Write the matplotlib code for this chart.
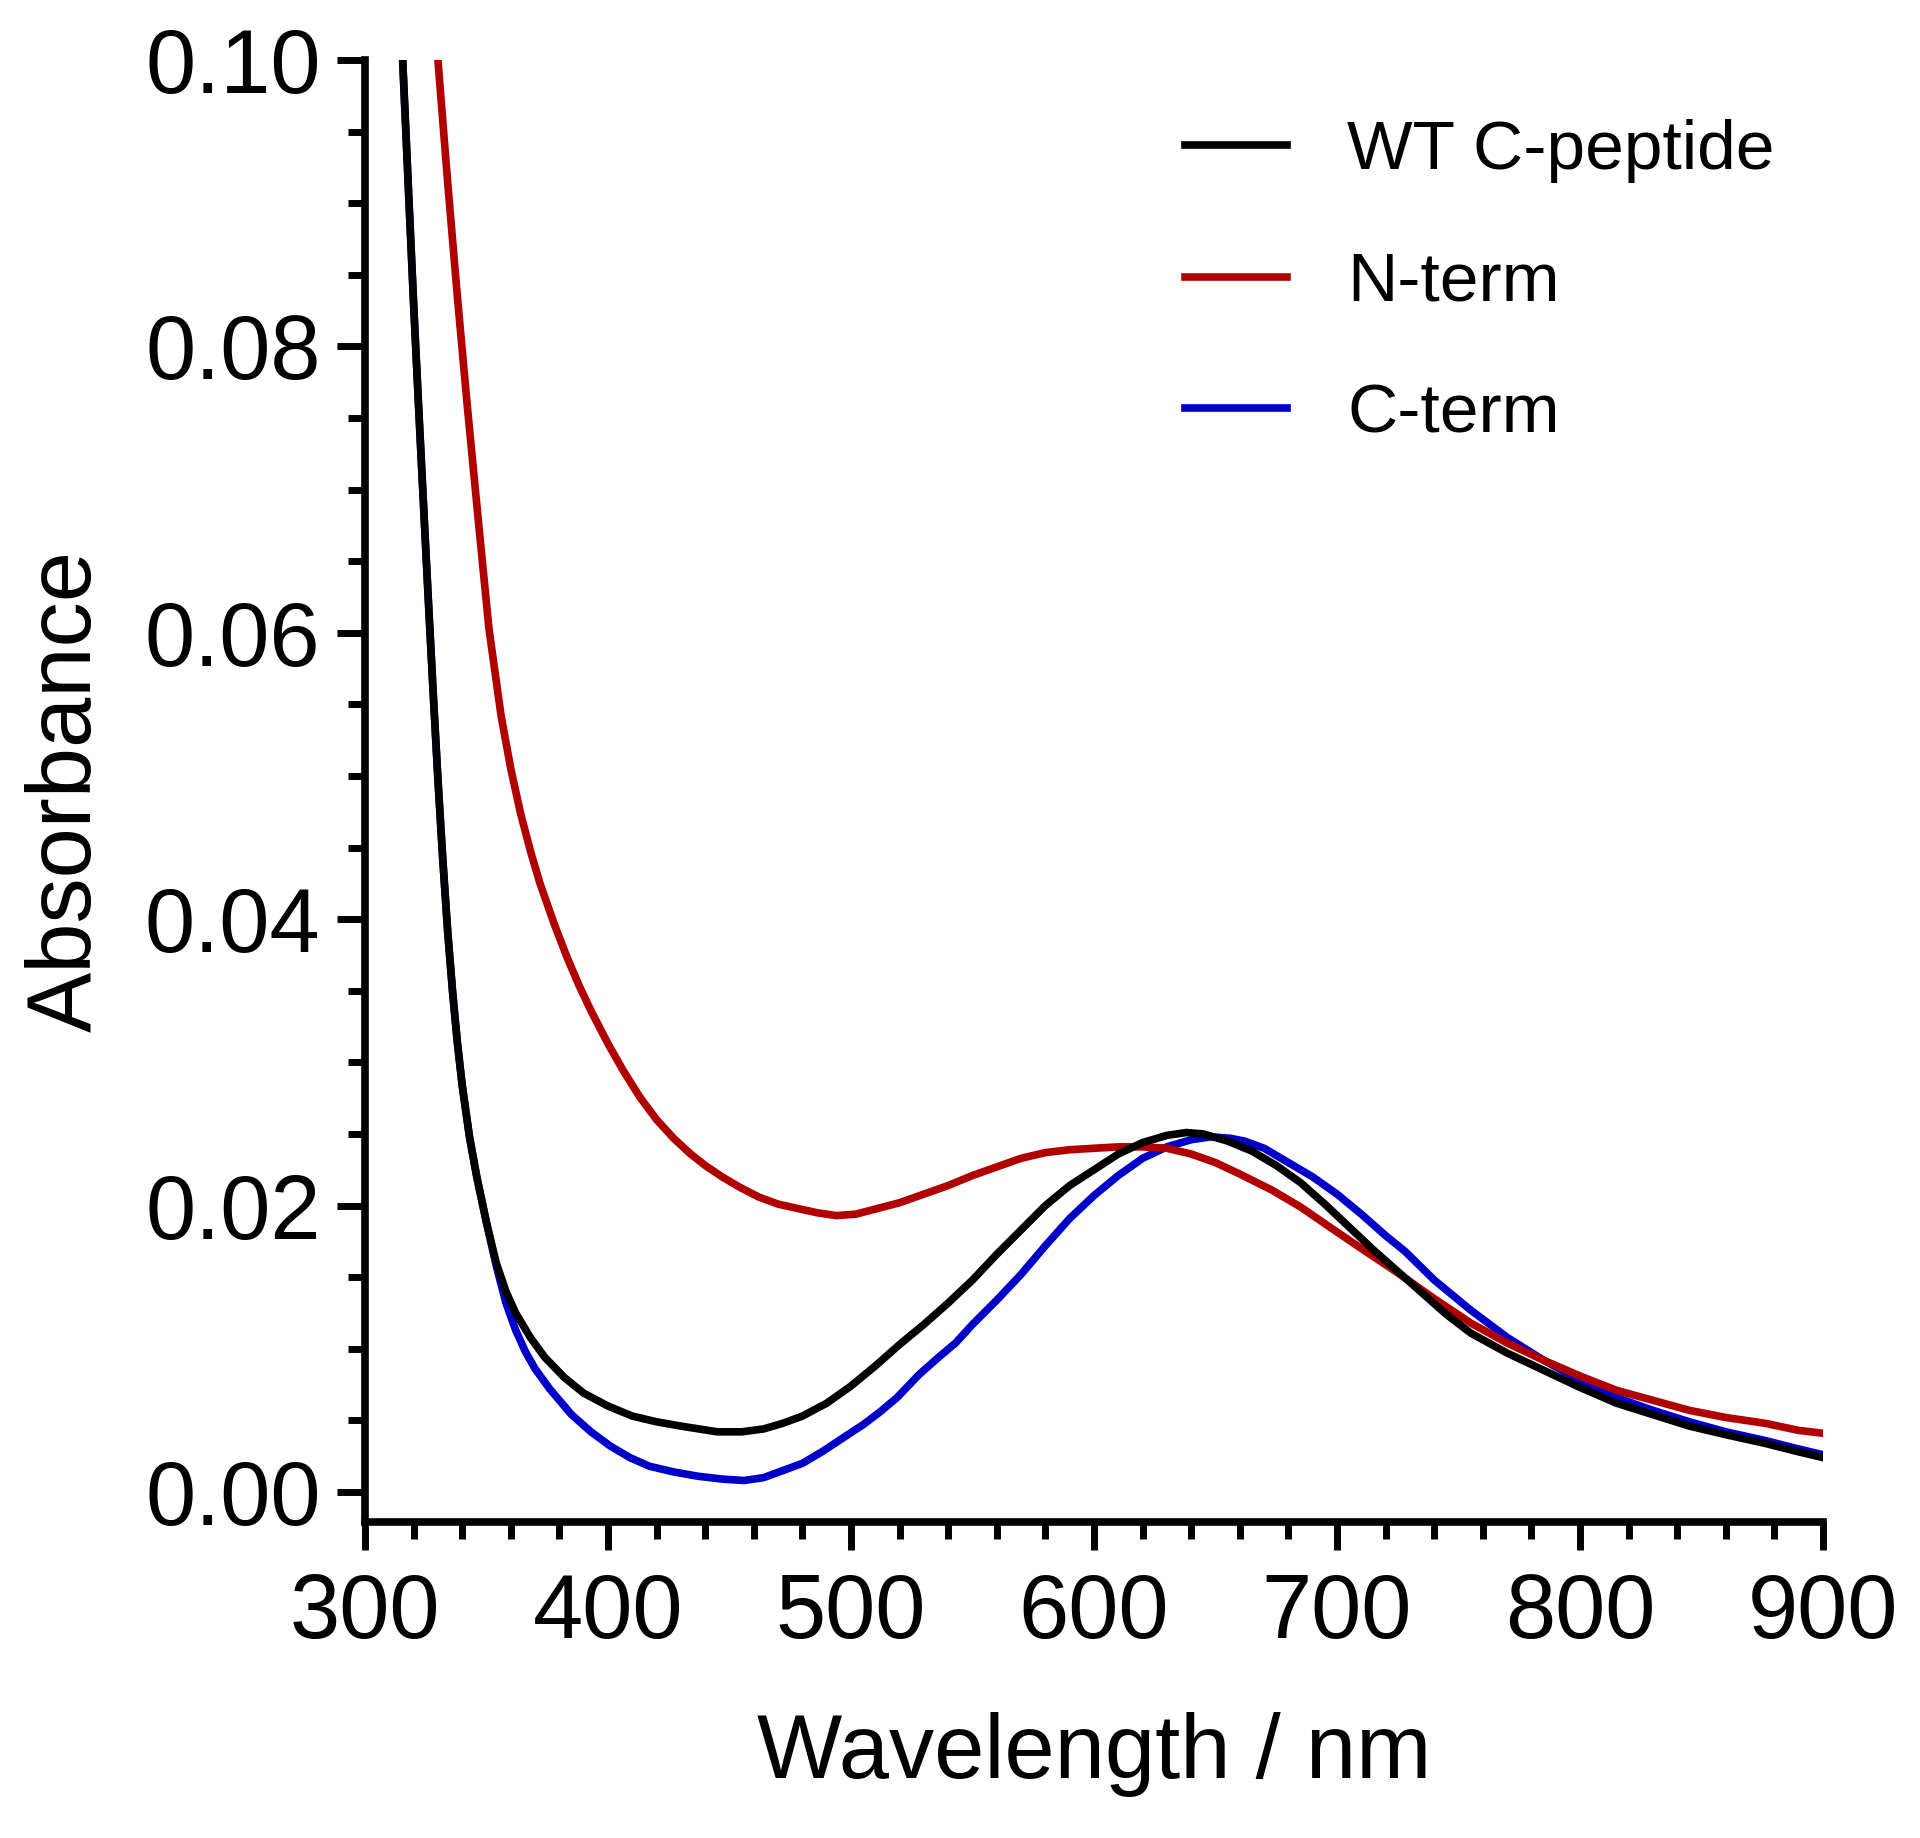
import numpy as np
import matplotlib
matplotlib.use('Agg')
import matplotlib.pyplot as plt
from matplotlib.ticker import MultipleLocator, FormatStrFormatter

# absorbance spectra (wavelength in nm)
wt_nm = [315.5, 318, 320, 322, 324, 326, 328, 330, 332, 334, 336, 338, 340, 343, 346,
         350, 354, 358, 362, 368, 374, 382, 390, 400, 410, 420, 430, 445, 455, 464,
         472, 480, 490, 500, 510, 520, 530, 540, 550, 560, 570, 580, 590, 600, 610,
         620, 630, 638, 645, 655, 665, 675, 685, 695, 705, 715, 725, 735, 745, 755,
         770, 785, 800, 815, 830, 845, 860, 876, 890, 900]
wt_abs = [0.1000, 0.0905, 0.0830, 0.0760, 0.0692, 0.0625, 0.0560, 0.0498, 0.0442,
          0.0392, 0.0350, 0.0314, 0.0284, 0.0248, 0.0220, 0.0188, 0.0160, 0.0140,
          0.0125, 0.0108, 0.0094, 0.0080, 0.0069, 0.0060, 0.0053, 0.0049, 0.0046,
          0.0042, 0.0042, 0.0044, 0.0048, 0.0053, 0.0062, 0.0074, 0.0088, 0.0103,
          0.0117, 0.0132, 0.0148, 0.0166, 0.0183, 0.0200, 0.0214, 0.0225, 0.0236,
          0.0244, 0.0249, 0.0251, 0.0250, 0.0245, 0.0238, 0.0228, 0.0216, 0.0201,
          0.0185, 0.0169, 0.0154, 0.0139, 0.0124, 0.0111, 0.0097, 0.0085, 0.0073,
          0.0062, 0.0054, 0.0046, 0.0040, 0.0034, 0.0028, 0.0024]

nterm_nm = [330, 334, 338, 342, 347, 351, 356, 360, 364, 368, 372, 378, 383, 388, 393,
            400, 406, 413, 420, 427, 434, 440, 447, 454, 462, 470, 478, 486, 494, 502,
            511, 520, 530, 540, 550, 560, 570, 580, 590, 600, 610, 620, 630, 640, 650,
            660, 673, 685, 697, 710, 725, 740, 755, 770, 785, 800, 815, 830, 845, 860,
            876, 890, 900]
nterm_abs = [0.1000, 0.0915, 0.0835, 0.0760, 0.0672, 0.0603, 0.0542, 0.0505, 0.0474,
             0.0448, 0.0425, 0.0396, 0.0374, 0.0354, 0.0336, 0.0313, 0.0295, 0.0276,
             0.0260, 0.0247, 0.0236, 0.0228, 0.0220, 0.0213, 0.0206, 0.0201, 0.0198,
             0.0195, 0.0193, 0.0194, 0.0198, 0.0202, 0.0208, 0.0214, 0.0221, 0.0227,
             0.0233, 0.0237, 0.0239, 0.0240, 0.0241, 0.0241, 0.0240, 0.0236, 0.0230,
             0.0222, 0.0211, 0.0199, 0.0185, 0.0170, 0.0153, 0.0135, 0.0118, 0.0104,
             0.0092, 0.0081, 0.0071, 0.0064, 0.0057, 0.0052, 0.0048, 0.0043, 0.0041]

cterm_nm = [315.5, 318, 320, 322, 324, 326, 328, 330, 332, 334, 336, 338, 340, 343, 346,
            350, 354, 358, 362, 366, 370, 376, 385, 393, 401, 409, 417, 427, 437, 447,
            456, 464, 472, 480, 488, 496, 505, 512, 519, 528, 536, 543, 550, 560, 570,
            580, 590, 600, 610, 620, 630, 640, 648, 656, 662, 670, 679, 690, 700, 710,
            720, 728, 740, 755, 770, 785, 800, 815, 830, 845, 860, 876, 890, 900]
cterm_abs = [0.1000, 0.0905, 0.0830, 0.0760, 0.0692, 0.0625, 0.0560, 0.0498, 0.0442,
             0.0392, 0.0350, 0.0314, 0.0284, 0.0248, 0.0220, 0.0188, 0.0158, 0.0132,
             0.0113, 0.0098, 0.0086, 0.0072, 0.0054, 0.0042, 0.0032, 0.0024, 0.0018,
             0.0014, 0.0011, 0.0009, 0.0008, 0.0010, 0.0015, 0.0020, 0.0028, 0.0037,
             0.0047, 0.0056, 0.0066, 0.0082, 0.0094, 0.0104, 0.0117, 0.0134, 0.0152,
             0.0172, 0.0191, 0.0207, 0.0221, 0.0233, 0.0241, 0.0246, 0.0248, 0.0247,
             0.0245, 0.0240, 0.0231, 0.0220, 0.0208, 0.0194, 0.0179, 0.0168, 0.0148,
             0.0127, 0.0108, 0.0092, 0.0078, 0.0066, 0.0057, 0.0049, 0.0042, 0.0036,
             0.0030, 0.0026]

labels = ['WT C-peptide', 'N-term', 'C-term']
colors = ['#000000', '#b00000', '#0000c8']

plt.rcParams['font.family'] = ['Liberation Sans', 'DejaVu Sans']

fig = plt.figure(figsize=(19.2, 18.38), dpi=100)
ax = fig.add_axes([0.1901, 0.1719, 0.7594, 0.7955])

l_wt, = ax.plot(wt_nm, wt_abs, color=colors[0], lw=5.5, zorder=4, label=labels[0])
l_n, = ax.plot(nterm_nm, nterm_abs, color=colors[1], lw=5.5, zorder=3, label=labels[1])
l_c, = ax.plot(cterm_nm, cterm_abs, color=colors[2], lw=5.5, zorder=2, label=labels[2])

ax.set_xlim(300, 900)
ax.set_ylim(-0.0021, 0.1)
ax.xaxis.set_major_locator(MultipleLocator(100))
ax.xaxis.set_minor_locator(MultipleLocator(20))
ax.yaxis.set_major_locator(MultipleLocator(0.02))
ax.yaxis.set_minor_locator(MultipleLocator(0.005))
ax.yaxis.set_major_formatter(FormatStrFormatter('%.2f'))
ax.set_yticks([0, 0.02, 0.04, 0.06, 0.08, 0.10])

for s in ['top', 'right']:
    ax.spines[s].set_visible(False)
for s in ['left', 'bottom']:
    ax.spines[s].set_linewidth(5.5)
ax.spines['left'].set_bounds(-0.0021, 0.1)

ax.tick_params(which='major', length=20, width=5, direction='out', labelsize=65)
ax.tick_params(which='minor', length=12, width=5, direction='out')
ax.tick_params(axis='x', which='major', pad=16)
ax.tick_params(axis='y', which='major', pad=12)

ax.set_xlabel('Wavelength / nm', fontsize=65)
ax.set_ylabel('Absorbance', fontsize=65)
ax.xaxis.set_label_coords(0.5, -0.13)
ax.yaxis.set_label_coords(-0.175, 0.5)

ax.legend(handles=[l_wt, l_n, l_c], loc='upper left', bbox_to_anchor=(0.617, 0.935),
          bbox_transform=fig.transFigure, frameon=False, fontsize=50,
          handlelength=1.48, handletextpad=0.86, labelspacing=0.97, borderpad=0,
          borderaxespad=0)

fig.savefig('out.png', dpi=100)
